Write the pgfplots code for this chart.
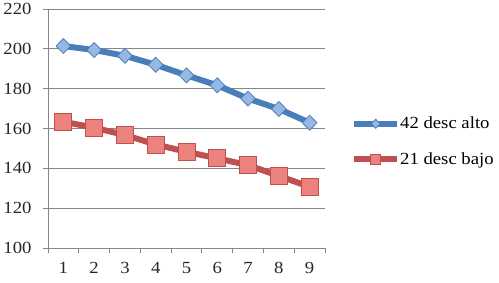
\documentclass[border=0pt]{standalone}
\usepackage{fontspec}
\setmainfont{Liberation Serif}[FakeStretch=1.1]
\usepackage{pgfplots}
\pgfplotsset{compat=1.18}
\definecolor{bline}{RGB}{74,126,187}
\definecolor{bfill}{RGB}{150,185,228}
\definecolor{rline}{RGB}{192,80,77}
\definecolor{rfill}{RGB}{236,130,125}
\definecolor{gridc}{RGB}{134,134,134}
\begin{document}
\begin{tikzpicture}
\useasboundingbox (0,0) rectangle (499bp,283bp);
\begin{axis}[
  at={(48bp,35bp)}, anchor=south west,
  scale only axis, width=277bp, height=239bp,
  xmin=0.5, xmax=9.5, ymin=100, ymax=220,
  xtick={1,...,9}, ytick={100,120,...,220},
  minor xtick={0.5,1.5,...,9.5},
  major x tick style={draw=none},
  tick align=outside,
  major tick length=5bp, minor tick length=5bp,
  tick style={gridc, line width=0.8pt},
  axis x line*=bottom, axis y line*=left,
  axis line style={gridc, line width=0.8pt, -},
  ymajorgrids, major grid style={gridc, line width=0.8pt},
  /pgf/number format/assume math mode=true,
  ticklabel style={font=\fontsize{17bp}{19bp}\selectfont, black!85},
  xticklabel style={yshift=-6bp},
  yticklabel style={xshift=-8bp},
  legend style={at={(1.094,0.446)}, anchor=west, draw=none, fill=none,
    font=\fontsize{17bp}{19bp}\selectfont, row sep=18bp, inner sep=0pt,
    /tikz/every odd column/.append style={column sep=0pt},
    nodes={inner xsep=0pt}},
  legend cell align=left,
  legend image code/.code={\draw[#1, mark repeat=2, mark phase=2, every mark/.append style={scale=0.6}] plot coordinates {(0bp,0bp)(21.5bp,0bp)(43bp,0bp)};},
]
\addplot[bline, line width=6bp, mark=diamond*, mark size=7.5bp,
  mark options={xscale=1.3, fill=bfill, draw=bline, line width=0.8pt}]
  coordinates {(1,201.4)(2,199.4)(3,196.5)(4,192)(5,186.7)(6,181.7)(7,175)(8,169.8)(9,162.9)};
\addlegendentry{42 desc alto}
\addplot[rline, line width=6bp, mark=square*, mark size=8.5bp,
  mark options={fill=rfill, draw=rline, line width=0.8pt}]
  coordinates {(1,163.4)(2,160.4)(3,156.7)(4,152)(5,148.3)(6,145)(7,141.6)(8,136.2)(9,130.7)};
\addlegendentry{21 desc bajo}
\end{axis}
\end{tikzpicture}
\end{document}
